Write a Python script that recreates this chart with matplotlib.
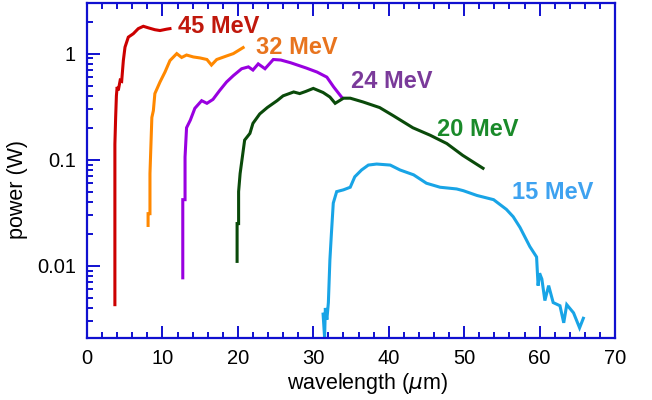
import matplotlib
matplotlib.use('Agg')
import matplotlib.pyplot as plt
from matplotlib.ticker import FixedLocator, FixedFormatter, MultipleLocator, LogLocator, NullFormatter

plt.rcParams['font.family'] = ['Liberation Sans', 'DejaVu Sans']

# spectra: wavelength (um), power (W)
x45 = [3.7, 3.7, 3.8, 3.9, 4.0, 4.15, 4.4, 4.6, 4.82, 5.04, 5.48, 6.14, 6.8, 7.47, 8.13, 9.0, 9.68, 10.56, 11.0]
y45 = [0.0043, 0.14, 0.25, 0.40, 0.485, 0.45, 0.56, 0.55, 0.86, 1.15, 1.43, 1.54, 1.72, 1.81, 1.75, 1.68, 1.65, 1.70, 1.72]

x32 = [8.1, 8.1, 8.35, 8.35, 8.6, 8.8, 9.0, 9.68, 10.34, 11.0, 11.9, 12.55, 13.2, 14.1, 15.0, 15.9, 16.5, 17.2, 18.5, 19.4, 20.7]
y32 = [0.024, 0.031, 0.031, 0.074, 0.25, 0.29, 0.42, 0.54, 0.67, 0.86, 1.0, 0.92, 0.97, 0.93, 0.91, 0.88, 0.78, 0.88, 0.95, 1.0, 1.14]

x24 = [12.7, 12.7, 13.0, 13.0, 13.2, 13.7, 14.3, 15.2, 15.9, 16.7, 17.6, 18.5, 19.4, 20.5, 21.4, 22.0, 22.7, 23.6, 24.7, 25.7, 27.0, 29.1, 30.5, 31.8, 32.7, 33.8]
y24 = [0.0077, 0.042, 0.042, 0.106, 0.20, 0.236, 0.305, 0.36, 0.34, 0.37, 0.45, 0.54, 0.62, 0.72, 0.75, 0.70, 0.80, 0.72, 0.88, 0.87, 0.82, 0.73, 0.67, 0.60, 0.485, 0.385]

x20 = [19.9, 19.9, 20.1, 20.1, 20.3, 20.9, 21.6, 22.0, 22.9, 23.9, 25.2, 26.0, 27.4, 28.2, 29.0, 30.0, 31.3, 32.2, 32.9, 34.0, 34.9, 36.6, 38.8, 40.6, 43.2, 45.5, 47.7, 49.8, 52.5]
y20 = [0.011, 0.025, 0.025, 0.05, 0.074, 0.153, 0.177, 0.22, 0.27, 0.31, 0.36, 0.40, 0.435, 0.42, 0.44, 0.47, 0.43, 0.39, 0.34, 0.38, 0.38, 0.35, 0.31, 0.26, 0.20, 0.17, 0.142, 0.11, 0.083]

x15 = [31.3, 31.5, 31.6, 31.8, 32.0, 32.2, 32.4, 32.65, 33.1, 34.0, 34.9, 35.5, 36.4, 37.3, 38.4, 40.2, 41.5, 43.3, 45.0, 46.8, 49.0, 49.9, 51.7, 53.9, 55.6, 56.5, 57.4, 58.7, 59.6, 59.8, 60.0, 60.3, 60.7, 61.2, 61.8, 62.7, 63.2, 63.6, 64.5, 65.3, 65.8]
y15 = [0.0035, 0.0021, 0.004, 0.0031, 0.0045, 0.0113, 0.020, 0.039, 0.050, 0.052, 0.055, 0.069, 0.080, 0.089, 0.091, 0.089, 0.080, 0.072, 0.060, 0.055, 0.053, 0.051, 0.046, 0.042, 0.034, 0.029, 0.023, 0.0152, 0.0121, 0.0065, 0.0085, 0.0075, 0.0047, 0.0065, 0.0045, 0.0042, 0.0029, 0.0043, 0.0036, 0.0026, 0.0032]

labels = ['45 MeV', '32 MeV', '24 MeV', '20 MeV', '15 MeV']
label_x = [17.5, 27.8, 40.4, 51.8, 61.7]
label_y = [1.81, 1.15, 0.548, 0.194, 0.0494]
line_colors = ['#cc0000', '#ff8800', '#9900e0', '#0a4a0a', '#18a4e6']
text_colors = ['#c0180c', '#e8741e', '#7a3a9a', '#1a8a2a', '#3ea2f0']

yticks = [0.01, 0.1, 1]
yticklabels = ['0.01', '0.1', '1']

axcol = '#1010d0'

fig = plt.figure(figsize=(6.52, 4.0), dpi=100)
ax = fig.add_axes([0.1334, 0.1558, 0.8099, 0.8367])

allx = [x45, x32, x24, x20, x15]
ally = [y45, y32, y24, y20, y15]
for xs, ys, c in zip(allx, ally, line_colors):
    ax.plot(xs, ys, color=c, lw=2.2, solid_joinstyle='miter')

for t, tx, ty, c in zip(labels, label_x, label_y, text_colors):
    ax.text(tx, ty, t, color=c, fontsize=17, fontweight='bold', ha='center', va='center')

ax.set_yscale('log')
ax.set_xlim(0, 70)
ax.set_ylim(0.0021, 3.0)

ax.xaxis.set_major_locator(MultipleLocator(10))
ax.xaxis.set_minor_locator(MultipleLocator(2))
ax.yaxis.set_major_locator(FixedLocator(yticks))
ax.yaxis.set_major_formatter(FixedFormatter(yticklabels))
ax.yaxis.set_minor_locator(LogLocator(base=10, subs=range(2, 10)))
ax.yaxis.set_minor_formatter(NullFormatter())

for s in ax.spines.values():
    s.set_color(axcol)
    s.set_linewidth(1.6)

ax.tick_params(which='both', direction='in', top=True, right=False, color=axcol, width=1.4, labelsize=14.5)
ax.tick_params(which='major', length=9, pad=8)
ax.tick_params(which='minor', length=4.5)

ax.set_xlabel('wavelength ($\\mu$m)', fontsize=15.5)
ax.xaxis.set_label_coords(0.532, -0.10)
ax.set_ylabel('power (W)', fontsize=15.5)
ax.yaxis.set_label_coords(-0.112, 0.444)

fig.savefig('out.png', dpi=100)
